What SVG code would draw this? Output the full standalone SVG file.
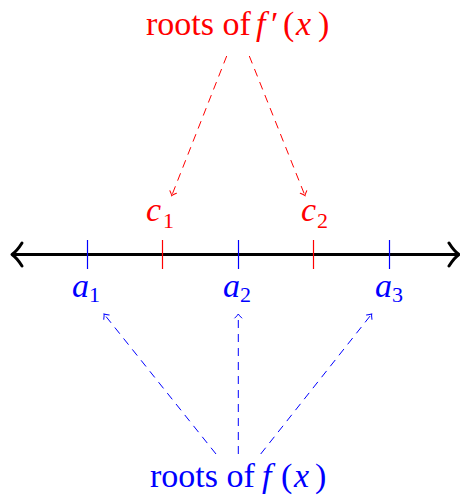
<svg xmlns="http://www.w3.org/2000/svg" width="460" height="496" viewBox="0 0 460 496">
<style>
.t{font-family:"Liberation Serif","Times New Roman",serif;}
.i{font-style:italic;}
.red{fill:#ff0000;}
.blue{fill:#0000ff;}
.big{font-size:34px;}
.lab{font-size:34px;font-style:italic;}
.sub{font-size:22px;font-style:normal;}
.dr{stroke:#ff0000;stroke-width:1;fill:none;stroke-dasharray:8 6;}
.db{stroke:#0000ff;stroke-width:1;fill:none;stroke-dasharray:8 6;}
</style>
<defs>
<marker id="ar" markerUnits="userSpaceOnUse" markerWidth="12" markerHeight="12" refX="0" refY="0" viewBox="-6 -6 12 12" orient="auto" overflow="visible">
<path d="M-4,-3.5 Q-1.5,-0.8 0,0 Q-1.5,0.8 -4,3.5" fill="none" stroke="#ff0000" stroke-width="1" stroke-linecap="round"/>
</marker>
<marker id="ab" markerUnits="userSpaceOnUse" markerWidth="12" markerHeight="12" refX="0" refY="0" viewBox="-6 -6 12 12" orient="auto" overflow="visible">
<path d="M-4,-3.5 Q-1.5,-0.8 0,0 Q-1.5,0.8 -4,3.5" fill="none" stroke="#0000ff" stroke-width="1" stroke-linecap="round"/>
</marker>
</defs>
<g id="axis">
<line x1="14" y1="254.5" x2="457" y2="254.5" stroke="#000" stroke-width="3"/>
<path d="M22,243 Q17,251 12,254.5 Q17,258 22,266" fill="none" stroke="#000" stroke-width="3" stroke-linecap="round" stroke-linejoin="round"/>
<path d="M449,243 Q454,251 459,254.5 Q454,258 449,266" fill="none" stroke="#000" stroke-width="3" stroke-linecap="round" stroke-linejoin="round"/>
</g>
<g id="ticks">
<line x1="87.5" y1="240" x2="87.5" y2="269" stroke="#0000ff" stroke-width="1.2"/>
<line x1="162.5" y1="240" x2="162.5" y2="269" stroke="#ff0000" stroke-width="1.2"/>
<line x1="238.5" y1="240" x2="238.5" y2="269" stroke="#0000ff" stroke-width="1.2"/>
<line x1="313.5" y1="240" x2="313.5" y2="269" stroke="#ff0000" stroke-width="1.2"/>
<line x1="389.5" y1="240" x2="389.5" y2="269" stroke="#0000ff" stroke-width="1.2"/>
</g>
<g id="roots-fprime">
<text class="t big red" y="35"><tspan x="146">roots of</tspan><tspan class="i" x="256">f</tspan><tspan x="271">′</tspan><tspan x="283">(</tspan><tspan class="i" x="296">x</tspan><tspan x="318">)</tspan></text>
</g>
<g id="roots-f">
<text class="t big blue" y="487"><tspan x="150">roots of</tspan><tspan class="i" x="262">f</tspan><tspan x="281">(</tspan><tspan class="i" x="294">x</tspan><tspan x="315">)</tspan></text>
</g>
<g id="c1"><text class="t lab red" x="146" y="221">c<tspan class="sub" x="163" y="228">1</tspan></text></g>
<g id="c2"><text class="t lab red" x="301" y="221">c<tspan class="sub" x="317" y="228">2</tspan></text></g>
<g id="a1"><text class="t lab blue" x="72" y="297">a<tspan class="sub" x="89" y="302">1</tspan></text></g>
<g id="a2"><text class="t lab blue" x="223" y="297">a<tspan class="sub" x="240" y="302">2</tspan></text></g>
<g id="a3"><text class="t lab blue" x="375" y="297">a<tspan class="sub" x="392" y="302">3</tspan></text></g>
<g id="connectors">
<line class="dr" x1="226.7" y1="56" x2="171.7" y2="195.7" marker-end="url(#ar)"/>
<line class="dr" x1="249.3" y1="56" x2="305" y2="195.7" marker-end="url(#ar)"/>
<line class="db" x1="216" y1="454" x2="104" y2="314" marker-end="url(#ab)"/>
<line class="db" x1="238.3" y1="454" x2="238.3" y2="314" marker-end="url(#ab)"/>
<line class="db" x1="260.7" y1="454" x2="371.7" y2="314" marker-end="url(#ab)"/>
</g>
</svg>
